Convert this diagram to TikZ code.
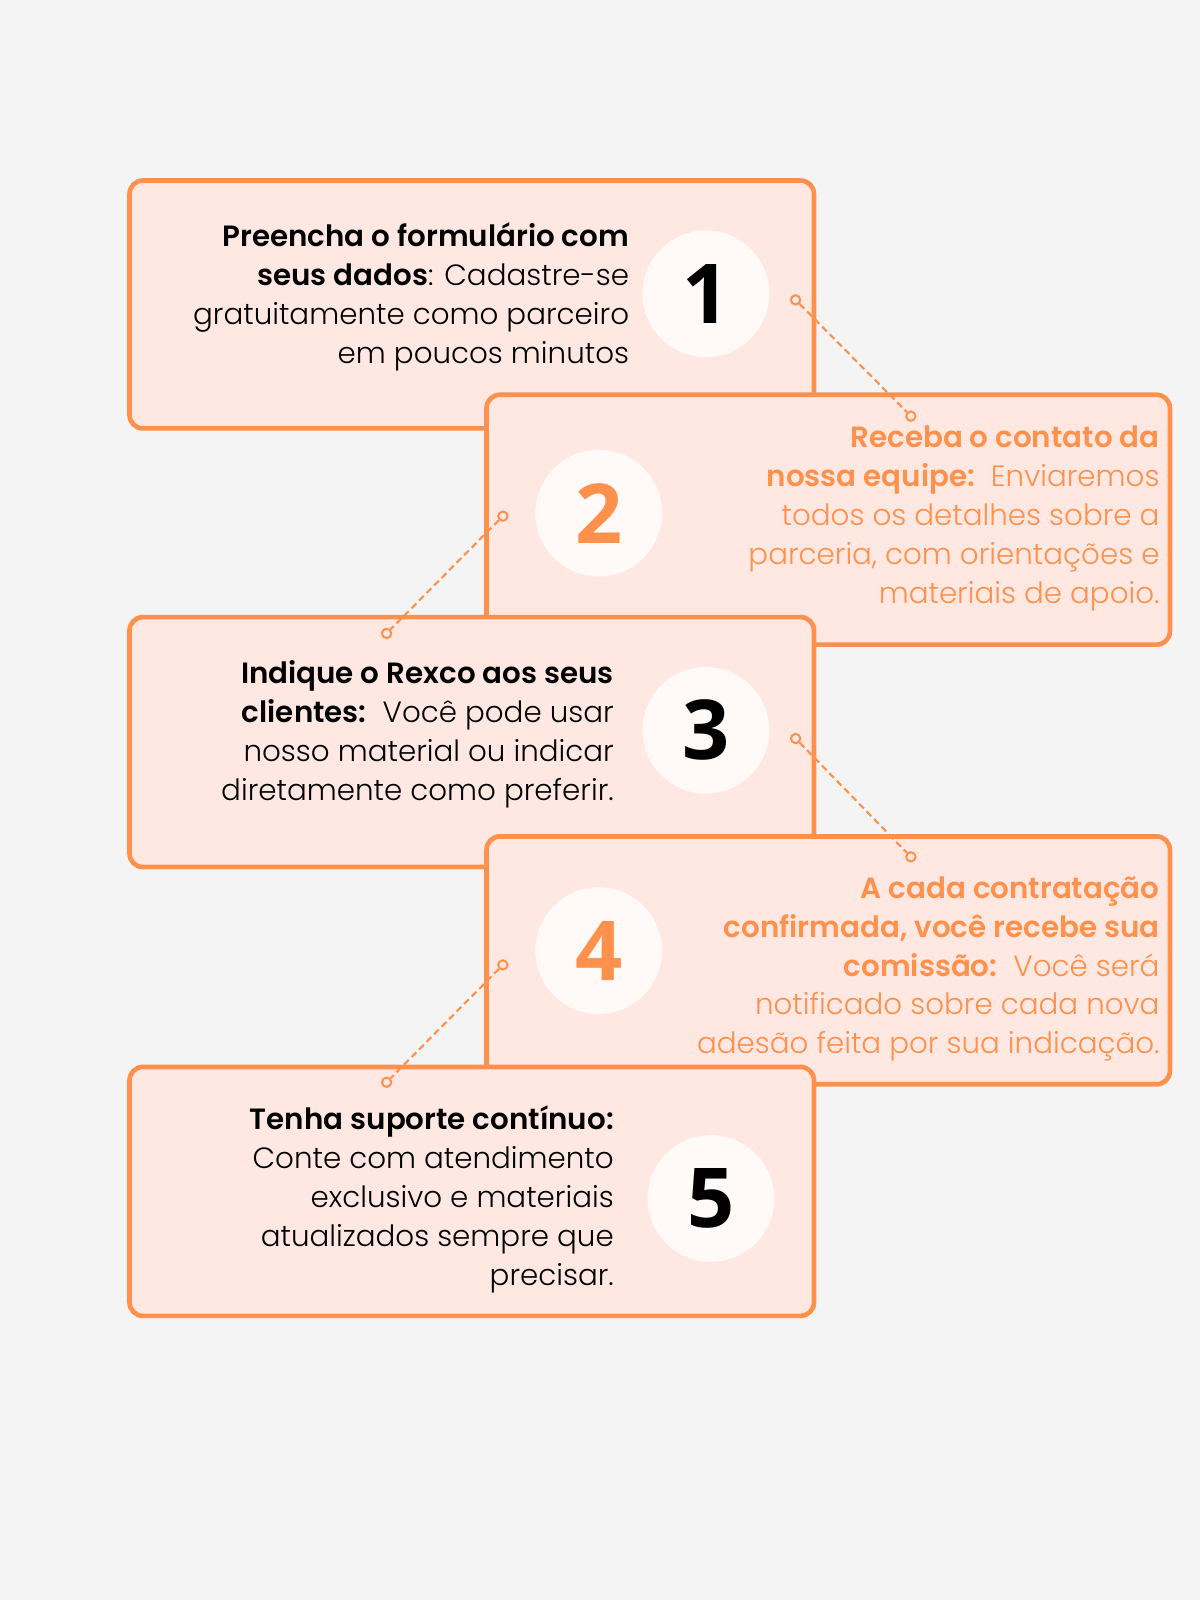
\documentclass[tikz,border=0pt]{standalone}
\usepackage{fontspec}
\setmainfont{Poppins}[UprightFont=* Light, BoldFont=* SemiBold]
\newfontfamily\numfont{Open Sans}
\definecolor{bg}{HTML}{F4F4F4}
\definecolor{boxfill}{HTML}{FFE8E2}
\definecolor{org}{HTML}{FF914D}
\definecolor{cfill}{HTML}{FFFAF8}
\tikzset{
  card/.style={draw=org,fill=boxfill,line width=3.5pt,rounded corners=10pt},
  numc/.style={circle,fill=cfill,minimum size=95pt,inner sep=0pt,font=\numfont\bfseries\fontsize{62}{62}\selectfont},
  txt/.style={anchor=north east,align=right,inner sep=0pt,font=\fontsize{22}{29.2}\selectfont},
  dot/.style={circle,draw=org,fill=boxfill,line width=1.5pt,minimum size=7pt,inner sep=0pt},
  conn/.style={draw=org,dash pattern=on 5pt off 3pt,line width=1.6pt}
}
\begin{document}
\begin{tikzpicture}[x=0.765pt,y=-0.765pt]
\fill[bg] (0,0) rectangle (1176.5,1568.6);
\useasboundingbox (0,0) rectangle (1176.5,1568.6);
% box 1
\draw[card] (127,177) rectangle (798,420);
\node[numc] (n1) at (692,288) {1};
\node[txt] (t1) at (617,218) {\textbf{Preencha o formulário com}\\\textbf{seus dados}: Cadastre-se\\gratuitamente como parceiro\\em poucos minutos};
% box 2
\draw[card] (477,387) rectangle (1147,632);
\node[numc,text=org] (n2) at (587,503) {2};
\node[txt,text=org] (t2) at (1137,417) {\textbf{Receba o contato da}\\\textbf{nossa equipe:}\ \ Enviaremos\\todos os detalhes sobre a\\parceria, com orientações e\\materiais de apoio.};
% box 3
\draw[card] (127,605) rectangle (798,850);
\node[numc] (n3) at (692,716) {3};
\node[txt] (t3) at (602,647) {\textbf{Indique o Rexco aos seus}\\\textbf{clientes:}\ \ Você pode usar\\nosso material ou indicar\\diretamente como preferir.};
% box 4
\draw[card] (477,820) rectangle (1147,1063);
\node[numc,text=org] (n4) at (587,932) {4};
\node[txt,text=org] (t4) at (1137,859) {\textbf{A cada contratação}\\\textbf{confirmada, você recebe sua}\\\textbf{comissão:}\ \ Você será\\notificado sobre cada nova\\adesão feita por sua indicação.};
% box 5
\draw[card] (127,1046) rectangle (798,1290);
\node[numc] (n5) at (697,1175) {5};
\node[txt] (t5) at (602,1084) {\textbf{Tenha suporte contínuo:}\\Conte com atendimento\\exclusivo e materiais\\atualizados sempre que\\precisar.};
% connectors
\node[dot] (a1) at (780,294) {};
\node[dot] (b1) at (893,408) {};
\node[dot] (a2) at (493,506) {};
\node[dot] (b2) at (379,621) {};
\node[dot] (a3) at (780,724) {};
\node[dot] (b3) at (893,840) {};
\node[dot] (a4) at (493,946) {};
\node[dot] (b4) at (379,1061) {};
\draw[conn] (a1) -- (b1);
\draw[conn] (a2) -- (b2);
\draw[conn] (a3) -- (b3);
\draw[conn] (a4) -- (b4);
\end{tikzpicture}
\end{document}
